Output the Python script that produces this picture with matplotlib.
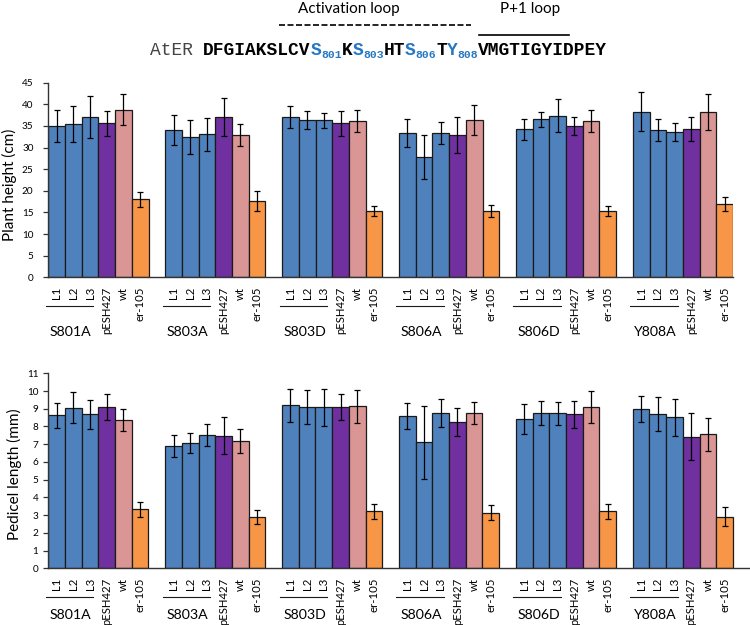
import matplotlib
matplotlib.use("Agg")
from matplotlib import pyplot as plt
from matplotlib.lines import Line2D
import numpy as np

plt.rcParams['font.family'] = ['Lato', 'DejaVu Sans']

# ---- data ----
groups = ['S801A', 'S803A', 'S803D', 'S806A', 'S806D', 'Y808A']
lines = ['L1', 'L2', 'L3', 'pESH427', 'wt', 'er-105']

height_mean = [
    [35.0, 35.4, 37.1, 35.6, 38.8, 18.0],
    [34.1, 32.4, 33.1, 37.0, 32.9, 17.7],
    [37.1, 36.4, 36.3, 35.6, 36.2, 15.3],
    [33.4, 27.8, 33.4, 32.9, 36.4, 15.4],
    [34.2, 36.5, 37.4, 35.0, 36.2, 15.4],
    [38.3, 34.1, 33.6, 34.3, 38.2, 16.9],
]
height_err = [
    [3.6, 4.1, 4.9, 2.9, 3.5, 1.8],
    [3.4, 4.0, 3.8, 4.4, 2.5, 2.3],
    [2.6, 2.1, 1.8, 2.9, 2.6, 1.2],
    [3.3, 5.0, 2.6, 4.1, 3.4, 1.4],
    [2.5, 1.7, 3.8, 2.0, 2.6, 1.2],
    [4.5, 2.6, 2.0, 2.8, 4.1, 1.6],
]
pedicel_mean = [
    [8.62, 9.06, 8.68, 9.11, 8.36, 3.32],
    [6.89, 7.06, 7.53, 7.49, 7.19, 2.89],
    [9.19, 9.09, 9.08, 9.11, 9.13, 3.21],
    [8.58, 7.11, 8.77, 8.26, 8.77, 3.13],
    [8.43, 8.77, 8.74, 8.68, 9.11, 3.21],
    [8.98, 8.68, 8.53, 7.43, 7.55, 2.92],
]
pedicel_err = [
    [0.70, 0.86, 0.80, 0.73, 0.64, 0.42],
    [0.63, 0.58, 0.62, 1.02, 0.68, 0.39],
    [0.94, 0.97, 1.06, 0.74, 0.92, 0.43],
    [0.75, 2.05, 0.78, 0.77, 0.62, 0.43],
    [0.83, 0.66, 0.66, 0.75, 0.91, 0.43],
    [0.75, 0.96, 1.04, 1.31, 0.92, 0.53],
]

# sequence header
seq_species = 'AtER'
seq_parts = [('DFGIAKSLCV', 'plain'), ('S', 'site'), ('801', 'sub'),
             ('K', 'plain'), ('S', 'site'), ('803', 'sub'),
             ('HT', 'plain'), ('S', 'site'), ('806', 'sub'),
             ('T', 'plain'), ('Y', 'site'), ('808', 'sub'),
             ('VMGTIGYIDPEY', 'plain')]

bar_colors = ['#4F81BD', '#4F81BD', '#4F81BD', '#7030A0', '#D99694', '#F79646']
site_blue = '#2477C2'
axis_col = '#333333'

W, H = 750, 625
fig = plt.figure(figsize=(W / 100, H / 100), dpi=100)


def px(x, y):
    # pixel (from top-left) -> figure fraction
    return x / W, 1 - y / H


def draw_panel(ax, means, errs, ylim, yticks, ylabel_pad, name_drop, xright):
    x = []
    heights = []
    errors = []
    colors = []
    labels = []
    for g in range(len(groups)):
        for i in range(len(lines)):
            x.append(g * 7 + i)
            heights.append(means[g][i])
            errors.append(errs[g][i])
            colors.append(bar_colors[i])
            labels.append(lines[i])
    ax.bar(x, heights, width=1.0, color=colors, edgecolor='#1a1a1a', linewidth=0.9, zorder=2)
    ax.errorbar(x, heights, yerr=errors, fmt='none', ecolor='black', elinewidth=0.9,
                capsize=2.3, capthick=0.9, zorder=3)
    ax.set_xlim(-0.5, xright)
    ax.set_ylim(*ylim)
    ax.set_yticks(yticks)
    ax.set_xticks(x)
    ax.set_xticklabels(labels, rotation=90, fontsize=8.2)
    ax.tick_params(axis='x', length=0, pad=7)
    ax.tick_params(axis='y', length=3.6, width=0.9, color=axis_col, labelsize=7.2, pad=ylabel_pad,
                   direction='out')
    for s in ['top', 'right']:
        ax.spines[s].set_visible(False)
    for s in ['left', 'bottom']:
        ax.spines[s].set_color(axis_col)
        ax.spines[s].set_linewidth(1.0)

    # underline under L1-L3 and construct name
    hpx = ax.get_position().height * H
    tr = ax.get_xaxis_transform()
    for g, name in enumerate(groups):
        ax.add_line(Line2D([g * 7 - 0.65, g * 7 + 2.2], [-28.4 / hpx] * 2, transform=tr,
                           color='#1a1a1a', lw=0.8, clip_on=False))
        ax.text(g * 7 + 0.85, -name_drop / hpx, name, transform=tr, ha='center', va='center',
                fontsize=10.2, clip_on=False)


ax1 = fig.add_axes([48.3 / W, 1 - 277.3 / H, 684.7 / W, 194.6 / H])
draw_panel(ax1, height_mean, height_err, (0, 45), np.arange(0, 46, 5), 7, 54.4, 40.5)

ax2 = fig.add_axes([48.3 / W, 1 - 568.3 / H, 700.7 / W, 195.0 / H])
draw_panel(ax2, pedicel_mean, pedicel_err, (0, 11), np.arange(0, 12, 1), 3.6, 46.7, 41.46)

fig.text(*px(9, 185), 'Plant height (cm)', rotation=90, ha='center', va='center', fontsize=11)
fig.text(*px(14, 474), 'Pedicel length (mm)', rotation=90, ha='center', va='center', fontsize=11)

# ---- header: loop annotations and sequence ----
fig.text(*px(348.4, 9), 'Activation loop', ha='center', va='center', fontsize=11)
fig.text(*px(530, 9), 'P+1 loop', ha='center', va='center', fontsize=11)
fig.add_artist(Line2D([278.6 / W, 471.4 / W], [1 - 25 / H] * 2, color='black', lw=1.2,
                      dashes=(3.6, 1.5)))
fig.add_artist(Line2D([478.6 / W, 569 / W], [1 - 35 / H] * 2, color='black', lw=1.2))

main_pt, sub_pt = 12.85, 8.2
main_adv = 0.6 * main_pt * 100 / 72
sub_adv = 0.6 * sub_pt * 100 / 72
fig.text(*px(150, 54.7), seq_species, family='Liberation Mono', fontsize=main_pt,
         color='#444444', va='baseline', ha='left')
xpos = 203.3
for txt, kind in seq_parts:
    if kind == 'sub':
        fig.text(*px(xpos, 57.5), txt, family='Liberation Mono', fontweight='bold',
                 fontsize=sub_pt, color=site_blue, va='baseline', ha='left')
        xpos += len(txt) * sub_adv
    else:
        fig.text(*px(xpos, 54.7), txt, family='Liberation Mono', fontweight='bold',
                 fontsize=main_pt, color=site_blue if kind == 'site' else 'black',
                 va='baseline', ha='left')
        xpos += len(txt) * main_adv

fig.savefig('out.png', dpi=100)
